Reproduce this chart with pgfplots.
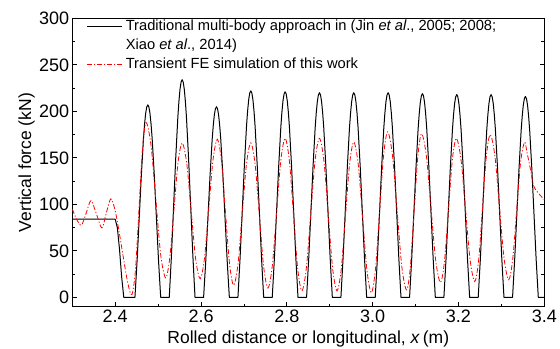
\documentclass[border=0pt]{standalone}
\usepackage{fontspec}
\setmainfont{Liberation Sans}
\usepackage{pgfplots}
\pgfplotsset{compat=1.18}
\usetikzlibrary{calc}

\pgfplotstableread{
x y
2.300 84
2.400 84
2.405 75
2.410 52
2.415 22
2.420 0
2.446 0
2.451 39.3
2.456 85.7
2.461 132.1
2.466 171.6
2.4685 186.5
2.471 197.9
2.4735 204.7
2.476 207
2.4785 204.7
2.481 197.9
2.4835 186.5
2.486 171.6
2.491 132.1
2.496 85.7
2.501 39.3
2.506 0
2.526 0
2.531 44.5
2.536 96.9
2.541 149.3
2.546 194.0
2.5485 210.8
2.551 223.7
2.5535 231.4
2.556 234
2.5585 231.4
2.561 223.7
2.5635 210.8
2.566 194.0
2.571 149.3
2.576 96.9
2.581 44.5
2.586 0
2.606 0
2.611 39.0
2.616 84.9
2.621 130.8
2.626 169.9
2.6285 184.7
2.631 196.0
2.6335 202.7
2.636 205
2.6385 202.7
2.641 196.0
2.6435 184.7
2.646 169.9
2.651 130.8
2.656 84.9
2.661 39.0
2.666 0
2.686 0
2.691 42.2
2.696 91.9
2.701 141.6
2.706 184.0
2.7085 200.0
2.711 212.2
2.7135 219.6
2.716 222
2.7185 219.6
2.721 212.2
2.7235 200.0
2.726 184.0
2.731 141.6
2.736 91.9
2.741 42.2
2.746 0
2.766 0
2.771 42.0
2.776 91.5
2.781 141.0
2.786 183.2
2.7885 199.1
2.791 211.3
2.7935 218.6
2.796 221
2.7985 218.6
2.801 211.3
2.8035 199.1
2.806 183.2
2.811 141.0
2.816 91.5
2.821 42.0
2.826 0
2.846 0
2.851 41.8
2.856 91.1
2.861 140.4
2.866 182.4
2.8685 198.2
2.871 210.3
2.8735 217.6
2.876 220
2.8785 217.6
2.881 210.3
2.8835 198.2
2.886 182.4
2.891 140.4
2.896 91.1
2.901 41.8
2.906 0
2.926 0
2.931 41.8
2.936 91.1
2.941 140.4
2.946 182.4
2.9485 198.2
2.951 210.3
2.9535 217.6
2.956 220
2.9585 217.6
2.961 210.3
2.9635 198.2
2.966 182.4
2.971 140.4
2.976 91.1
2.981 41.8
2.986 0
3.006 0
3.011 41.8
3.016 91.1
3.021 140.4
3.026 182.4
3.0285 198.2
3.031 210.3
3.0335 217.6
3.036 220
3.0385 217.6
3.041 210.3
3.0435 198.2
3.046 182.4
3.051 140.4
3.056 91.1
3.061 41.8
3.066 0
3.086 0
3.091 41.6
3.096 90.7
3.101 139.7
3.106 181.6
3.1085 197.3
3.111 209.4
3.1135 216.6
3.116 219
3.1185 216.6
3.121 209.4
3.1235 197.3
3.126 181.6
3.131 139.7
3.136 90.7
3.141 41.6
3.146 0
3.166 0
3.171 41.4
3.176 90.3
3.181 139.1
3.186 180.7
3.1885 196.4
3.191 208.4
3.1935 215.6
3.196 218
3.1985 215.6
3.201 208.4
3.2035 196.4
3.206 180.7
3.211 139.1
3.216 90.3
3.221 41.4
3.226 0
3.246 0
3.251 41.4
3.256 90.3
3.261 139.1
3.266 180.7
3.2685 196.4
3.271 208.4
3.2735 215.6
3.276 218
3.2785 215.6
3.281 208.4
3.2835 196.4
3.286 180.7
3.291 139.1
3.296 90.3
3.301 41.4
3.306 0
3.326 0
3.331 41.0
3.336 89.4
3.341 137.8
3.346 179.1
3.3485 194.6
3.351 206.5
3.3535 213.6
3.356 216
3.3585 213.6
3.361 206.5
3.3635 194.6
3.366 179.1
3.371 137.8
3.376 89.4
3.381 41.0
3.386 0
3.400 0
}\blacktable

\pgfplotstableread{
x y
2.300 95
2.310 84
2.321 77.5
2.332 90
2.3435 104
2.356 90
2.369 74.6
2.380 92
2.390 106
2.400 93
2.410 68
2.420 40
2.430 14
2.439 3
2.4473 30
2.4555 95.5
2.4638 161
2.472 188
2.4834 163.6
2.4948 104.5
2.5061 45.4
2.5175 21
2.5271 42.2
2.5368 93.5
2.5464 144.8
2.556 166
2.5665 144.7
2.577 93
2.5875 41.3
2.598 20
2.608 41.9
2.618 95
2.628 148.1
2.638 170
2.6475 147.1
2.657 91.5
2.6665 35.9
2.676 13
2.686 35.3
2.696 89.5
2.706 143.7
2.716 166
2.726 143.2
2.736 88
2.746 32.8
2.756 10
2.766 33.5
2.776 90.5
2.786 147.5
2.796 171
2.8058 147.1
2.8155 89
2.8253 30.9
2.835 7
2.8453 30.9
2.8555 89
2.8658 147.1
2.876 171
2.8863 147.1
2.8965 89
2.9068 30.9
2.917 7
2.9268 30.4
2.9365 87
2.9463 143.6
2.956 167
2.9663 143.3
2.9765 86
2.9868 28.7
2.997 5
3.0065 30.3
3.016 91.5
3.0255 152.7
3.035 178
3.046 153.2
3.057 93
3.068 32.8
3.079 8
3.0878 32.5
3.0965 92
3.1053 151.5
3.114 176
3.125 152.6
3.136 96
3.147 39.4
3.158 16
3.1673 38.6
3.1765 93.5
3.1858 148.4
3.195 171
3.2058 148.5
3.2165 94
3.2273 39.5
3.238 17
3.247 40.1
3.256 96
3.265 151.9
3.274 175
3.2848 152.2
3.2955 97
3.3063 41.8
3.317 19
3.3263 40.6
3.3355 93
3.3448 145.4
3.354 167
3.360 155
3.3676 138
3.375 120
3.383 114
3.390 110
3.400 105
}\redtable

\begin{document}
\begin{tikzpicture}
\begin{axis}[
  scale only axis,
  width=472pt, height=288.4pt,
  xmin=2.3, xmax=3.4, ymin=-10, ymax=300,
  xtick={2.4,2.6,2.8,3.0,3.2,3.4},
  minor xtick={2.5,2.7,2.9,3.1,3.3},
  ytick={0,50,100,150,200,250,300},
  minor ytick={25,75,125,175,225,275},
  xtick pos=bottom,
  ytick pos=both,
  tick align=inside,
  major tick length=4.5pt,
  minor tick length=3pt,
  every tick/.style={black, line width=0.8pt},
  axis line style={line width=1.1pt},
  /pgf/number format/assume math mode=true,
  ticklabel style={font=\fontsize{18}{21}\selectfont},
  yticklabel style={inner xsep=3pt},
  xticklabel style={inner ysep=3pt, /pgf/number format/.cd, fixed, fixed zerofill, precision=1},
  label style={font=\fontsize{17.5}{20}\selectfont},
  xlabel style={inner ysep=1pt, yshift=-4pt},
  ylabel style={inner ysep=1pt},
  xlabel={Rolled distance or longitudinal, \textit{x}\,(m)},
  ylabel={Vertical force (kN)},
  legend cell align=left,
  legend style={at={(0,1)}, anchor=north west, draw=none, fill=none,
    inner sep=0pt, outer sep=0pt,
    font=\fontsize{14.7}{18}\selectfont, row sep=0pt,
    nodes={text height=12pt, text depth=4pt, inner ysep=1.5pt, inner xsep=3.5pt},
    xshift=14pt, yshift=1pt},
  legend image code/.code={\draw[#1] (0pt,0pt) -- (35pt,0pt);},
]
\addplot[black, line width=1pt, line join=round] table[x=x,y=y]{\blacktable};
\addlegendentry{Traditional multi-body approach in (Jin \textit{et al}., 2005; 2008;}
\addlegendimage{empty legend}
\addlegendentry{Xiao \textit{et al}., 2014)}
\addplot[red, line width=0.8pt, smooth, tension=0.5, dash pattern=on 5pt off 2pt on 1.2pt off 2pt] table[x=x,y=y]{\redtable};
\addlegendentry{Transient FE simulation of this work}
\end{axis}
\pgfresetboundingbox
\path ($(current axis.south west)+(-72.3pt,-42.3pt)$) rectangle ($(current axis.north east)+(15.7pt,18.3pt)$);
\end{tikzpicture}
\end{document}
